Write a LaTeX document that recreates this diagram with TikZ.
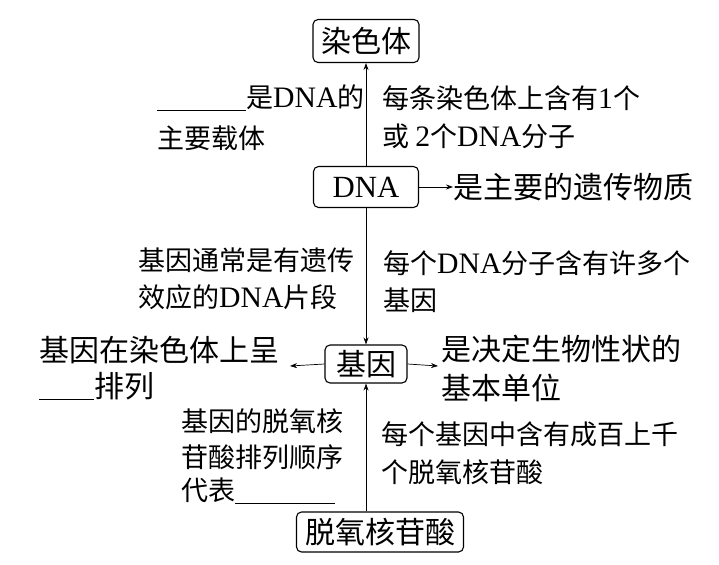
\documentclass[tikz,border=0pt]{standalone}
\usepackage{fontspec}
\setmainfont[Scale=1.1]{Liberation Serif}
\newfontfamily\cjk{Noto Sans CJK SC}
\usetikzlibrary{arrows.meta}
\newcommand\Dn{{\rmfamily DNA}}
\newcommand\blank[1]{\rule[-3pt]{#1}{0.8pt}}
\begin{document}
\begin{tikzpicture}[x=1pt,y=-1pt,
 box/.style={draw, rounded corners=5pt, line width=1.1pt, inner sep=0pt},
 big/.style={font=\cjk\fontsize{30}{31}\selectfont},
 sml/.style={font=\cjk\fontsize{27}{29}\selectfont},
 txt/.style={inner sep=0pt, anchor=west},
 arr/.style={-{Stealth[length=7pt,width=5pt]}, line width=0.7pt}]
\useasboundingbox (0,0) rectangle (719,564);
\node[box,big,minimum width=106pt,minimum height=43pt] (chr) at (366,41) {染色体};
\node[box,minimum width=105pt,minimum height=41pt,font=\fontsize{28}{30}\selectfont] (dna) at (366,187) {DNA};
\node[box,big,minimum width=82pt,minimum height=38pt] (gene) at (366,364) {基因};
\node[box,big,minimum width=167pt,minimum height=40pt] (nuc) at (380,532) {脱氧核苷酸};
% edge labels chr-dna
\node[txt,sml] (a1) at (157,98) {\blank{89pt}是\Dn 的};
\node[txt,sml] (a2) at (157,138) {主要载体};
\node[txt,sml] (b1) at (382,98) {每条染色体上含有{\rmfamily 1}个};
\node[txt,sml] (b2) at (382,136) {或 {\rmfamily 2}个\Dn 分子};
% dna right
\node[txt,big] (dtx) at (453,187) {是主要的遗传物质};
% edge labels dna-gene
\node[txt,sml] (c1) at (138,260) {基因通常是有遗传};
\node[txt,sml] (c2) at (138,297) {效应的\Dn 片段};
\node[txt,sml] (d1) at (383,263) {每个\Dn 分子含有许多个};
\node[txt,sml] (d2) at (383,300) {基因};
% gene sides
\node[txt,big] (e1) at (39,350) {基因在染色体上呈};
\node[txt,big] (e2) at (39,386) {\blank{55pt}排列};
\node[txt,big] (f1) at (441,349) {是决定生物性状的};
\node[txt,big] (f2) at (441,388) {基本单位};
% edge labels gene-nuc
\node[txt,sml] (g1) at (181,421) {基因的脱氧核};
\node[txt,sml] (g2) at (181,457) {苷酸排列顺序};
\node[txt,sml] (g3) at (181,491) {代表\blank{100pt}};
\node[txt,sml] (h1) at (381,434) {每个基因中含有成百上千};
\node[txt,sml] (h2) at (381,472) {个脱氧核苷酸};
% connectors
\coordinate (gL) at (290,366);
\coordinate (gR) at (438,366);
\draw[arr] (gene.south |- nuc.north) -- (gene.south);
\draw[arr] (dna.south) -- (gene.north);
\draw[arr] (dna.north) -- (chr.south);
\draw[arr] (dna.east) -- (dtx.west);
\draw[arr] (gene.west) -- (gL);
\draw[arr] (gene.east) -- (gR);
\end{tikzpicture}
\end{document}
